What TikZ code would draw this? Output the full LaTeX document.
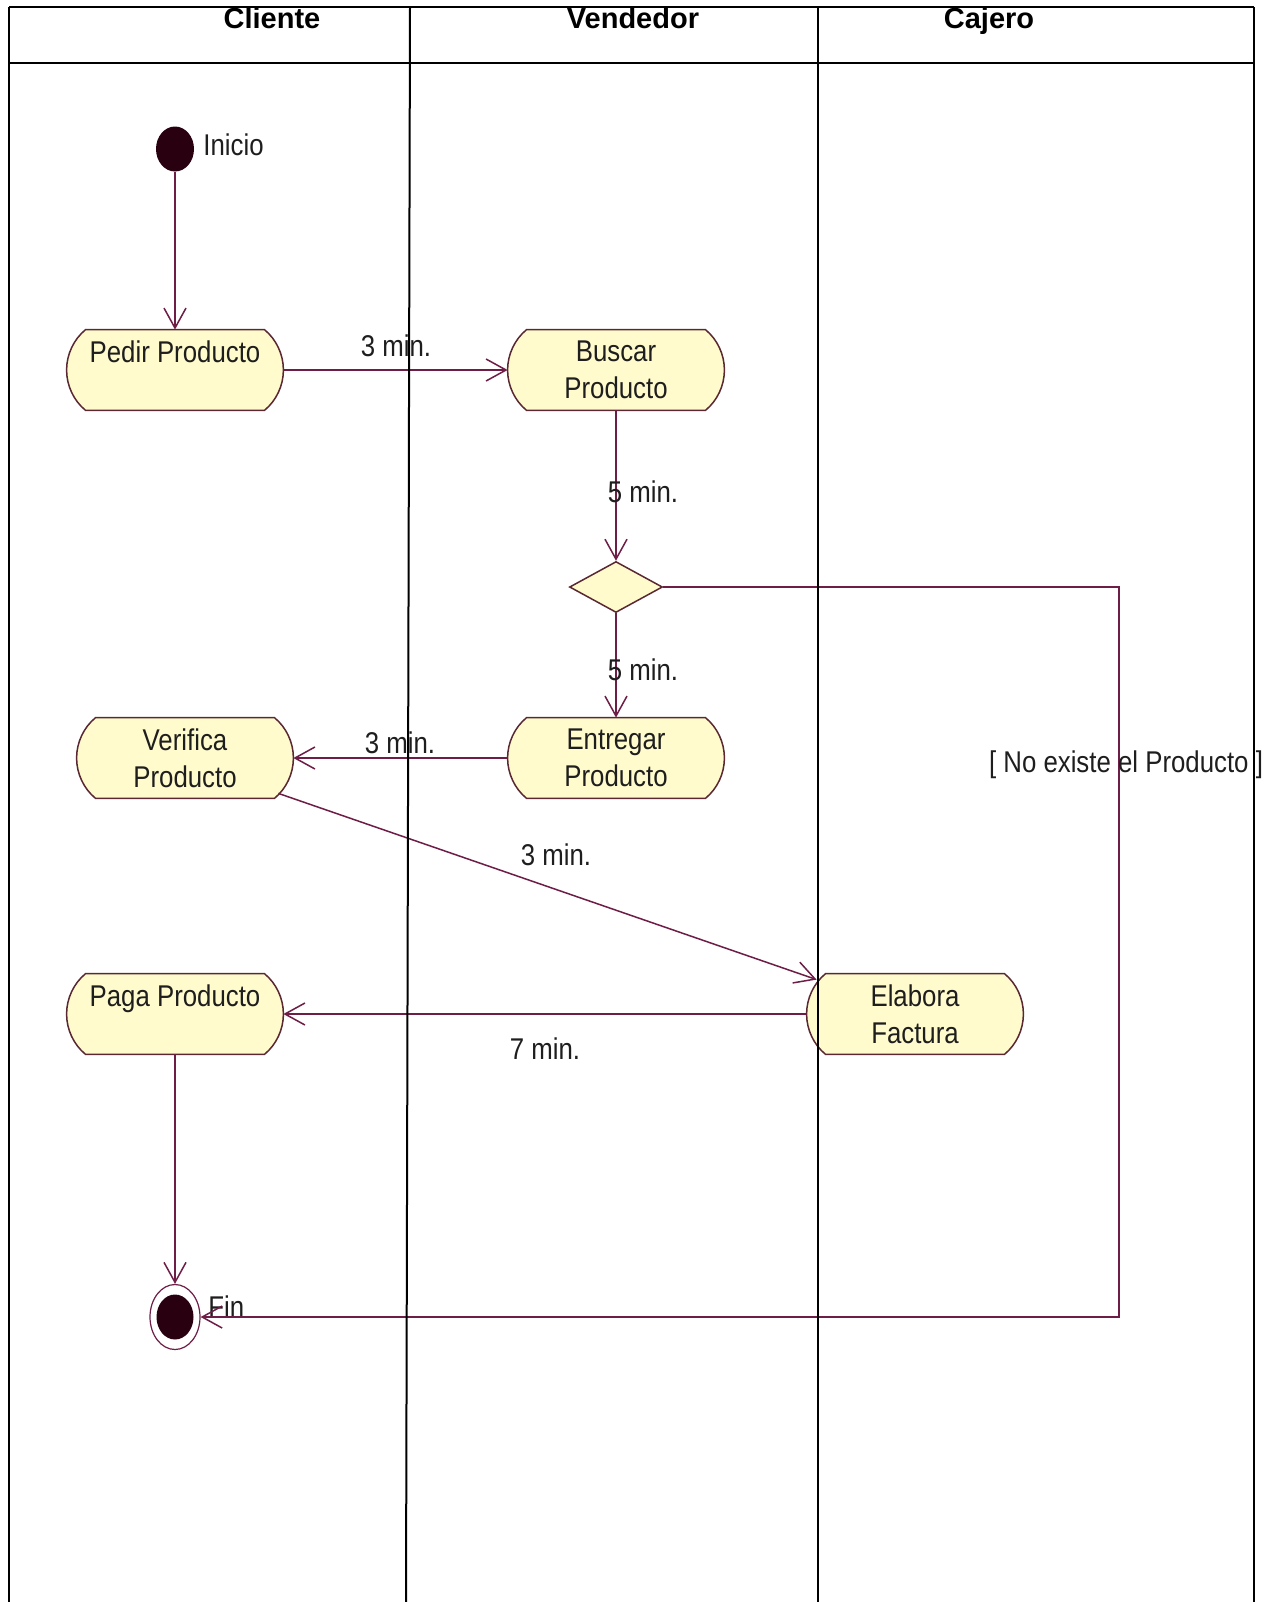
\documentclass[tikz,border=0pt]{standalone}
\usepackage{fontspec}
\setmainfont{Liberation Sans}
\newfontfamily\diafont[FakeStretch=0.86]{Liberation Sans}
\usetikzlibrary{arrows.meta,shapes.geometric,calc,backgrounds}

\definecolor{flowline}{RGB}{110,30,70}
\definecolor{actfill}{RGB}{255,251,204}
\definecolor{actedge}{RGB}{90,40,50}
\definecolor{markfill}{RGB}{40,0,16}
\definecolor{labeltext}{RGB}{30,30,30}

\begin{document}
\begin{tikzpicture}[x=0.5pt, y=-0.5pt,
  lane/.style={line width=1pt, black},
  flow/.style={draw=flowline, line width=0.75pt,
    -{Straight Barb[length=10pt,width=11pt,line width=0.75pt]}},
  act/.style={rectangle, minimum width=108pt, minimum height=40pt, inner sep=0pt,
    align=center, text=labeltext, font=\fontsize{15}{18.5}\selectfont\diafont},
  txt/.style={text=labeltext, font=\fontsize{15}{18}\selectfont\diafont, inner sep=0pt},
  head/.style={font=\fontsize{14.5}{17}\selectfont\bfseries, inner sep=0pt, anchor=base},
]
\useasboundingbox (0,0) rectangle (1273,1602);

% lane headings
\node[head] (hcli) at (272,28) {Cliente};
\node[head] (hven) at (633,28) {Vendedor};
\node[head] (hcaj) at (989,28) {Cajero};

% start and end markers
\node[ellipse, fill=markfill, minimum width=19pt, minimum height=22.5pt, inner sep=0pt] (ini) at (175,149) {};
\node[txt, anchor=west] (tini) at (203,145) {Inicio};
\node[ellipse, draw=flowline, line width=0.6pt, minimum width=25pt, minimum height=32.5pt, inner sep=0pt] (fin) at (175,1317) {};
\node[ellipse, fill=markfill, minimum width=18.5pt, minimum height=22.5pt, inner sep=0pt] (finin) at (fin.center) {};
\node[txt, anchor=west] (tfin) at (208,1307) {Fin};

% activities
\node[act] (pedir)    at (175,370)  {Pedir Producto\\\vphantom{P}};
\node[act] (buscar)   at (616,370)  {Buscar\\Producto};
\node[act] (entregar) at (616,758)  {Entregar\\Producto};
\node[act] (verifica) at (185,758)  {Verifica\\Producto};
\node[act] (paga)     at (175,1014) {Paga Producto\\\vphantom{P}};
\node[act] (elabora)  at (915,1014) {Elabora\\Factura};

% decision
\node[diamond, draw=actedge, fill=actfill, line width=0.75pt, aspect=1.8,
      minimum width=46.5pt, minimum height=25.5pt, inner sep=0pt] (dec) at (616,587) {};

% page background and activity outlines: flat top and bottom, bowed ends
\begin{scope}[on background layer]
\fill[white] (0,0) rectangle (1273,1602);
\foreach \n in {pedir,buscar,entregar,verifica,paga,elabora}{
  \filldraw[fill=actfill, draw=actedge, line width=0.75pt]
    ($(\n.north west)+(19,0)$) -- ($(\n.north east)+(-19,0)$)
    .. controls +(12,9.8) and +(0,-15.5) .. (\n.east)
    .. controls +(0,15.5) and +(12,-9.8) .. ($(\n.south east)+(-19,0)$)
    -- ($(\n.south west)+(19,0)$)
    .. controls +(-12,-9.8) and +(0,15.5) .. (\n.west)
    .. controls +(0,-15.5) and +(-12,9.8) .. cycle;
}
\end{scope}

% transitions
\coordinate (bend) at (1119,1317);
\draw[flow] (ini.south) -- (pedir.north);
\draw[flow] (pedir.east) -- (buscar.west);
\draw[flow] (buscar.south) -- (dec.north);
\draw[flow] (dec.south) -- (entregar.north);
\draw[flow] (entregar.west) -- (verifica.east);
\draw[flow] ($(verifica.south east)+(-15,-5)$) -- ($(elabora.north west)+(10,6)$);
\draw[flow] (elabora.west) -- (paga.east);
\draw[flow] (paga.south) -- (fin.north);
\draw[flow] (dec.east) -| (bend) -- (fin.east);

% transition labels
\node[txt] (m1) at (396,346)  {3 min.};
\node[txt] (m2) at (643,492)  {5 min.};
\node[txt] (m3) at (643,670)  {5 min.};
\node[txt] (m4) at (400,743)  {3 min.};
\node[txt] (m5) at (556,855)  {3 min.};
\node[txt] (m6) at (545,1049) {7 min.};
\node[txt] (g1) at (1126,765) {[ No existe el Producto ]};

% swimlane frame
\draw[lane] (9,7) -- (1254,7);
\draw[lane] (9,63) -- (1254,63);
\draw[lane] (9,7) -- (9,1602);
\draw[lane] (410,7) -- (406,1602);
\draw[lane] (818,7) -- (818,1602);
\draw[lane] (1254,7) -- (1254,1602);
\end{tikzpicture}
\end{document}
